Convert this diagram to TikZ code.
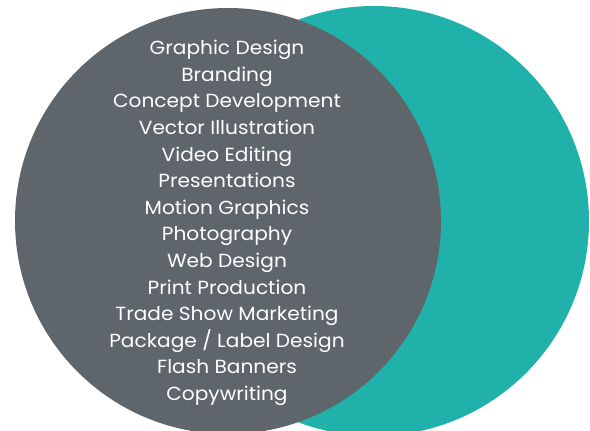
\documentclass[tikz,border=0pt]{standalone}
\usepackage{fontspec}
\setmainfont[FakeStretch=1.06]{Poppins}
\usetikzlibrary{positioning}

\definecolor{vennteal}{RGB}{32,178,170}
\definecolor{venngray}{RGB}{94,102,107}

\begin{document}
\begin{tikzpicture}[x=1pt,y=1pt,yscale=-1,xscale=1]

\useasboundingbox (0,0) rectangle (590,431);

%Circle right [teal]
\node [circle, fill=vennteal, inner sep=0pt, minimum size=430] (teal) at (374,221) {};
%Circle left [gray]
\node [circle, fill=venngray, inner sep=0pt, minimum size=426] (gray) at (228,221) {};

% Text Node
\node [inner sep=0pt, text=white, align=center, font=\fontsize{19}{26.6}\selectfont] (skills) at (227,223) {Graphic Design\\ Branding\\ Concept Development\\ Vector Illustration\\ Video Editing\\ Presentations\\ Motion Graphics\\ Photography\\ Web Design\\ Print Production\\ Trade Show Marketing\\ Package / Label Design\\ Flash Banners\\ Copywriting};

\end{tikzpicture}
\end{document}
